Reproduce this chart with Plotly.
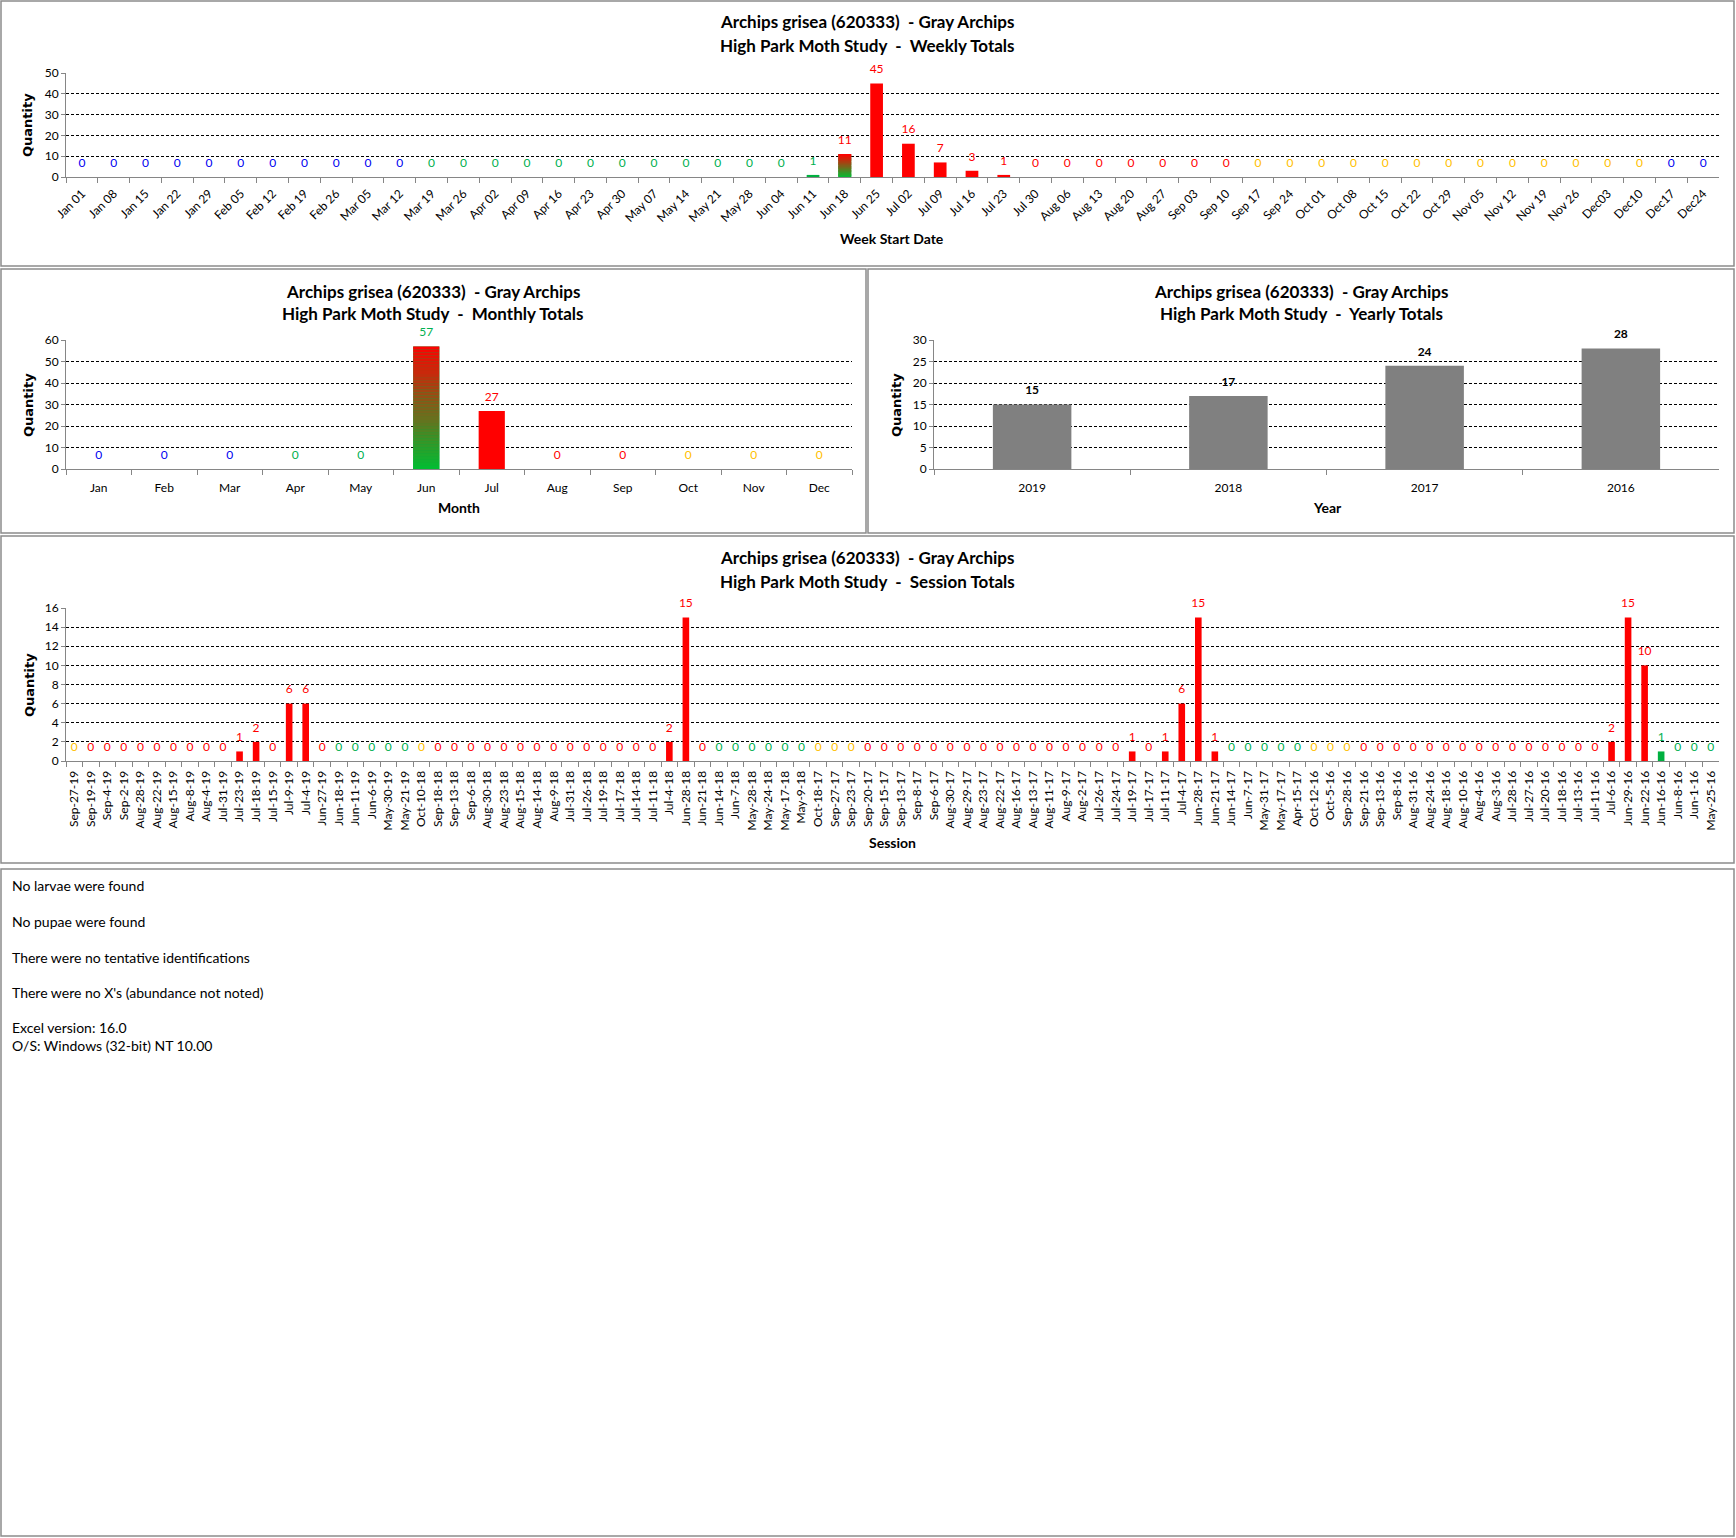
import plotly.graph_objects as go

W, H = 1736, 1538

# ---------------- DATA ----------------
TITLE1 = "Archips grisea (620333)\u00a0\u00a0- Gray Archips"
T_WEEK = "High Park Moth Study\u00a0\u00a0-\u00a0\u00a0Weekly Totals"
T_MONTH = "High Park Moth Study\u00a0\u00a0-\u00a0\u00a0Monthly Totals"
T_YEAR = "High Park Moth Study\u00a0\u00a0-\u00a0\u00a0Yearly Totals"
T_SESS = "High Park Moth Study\u00a0\u00a0-\u00a0\u00a0Session Totals"

week_labels = ["Jan 01", "Jan 08", "Jan 15", "Jan 22", "Jan 29", "Feb 05", "Feb 12", "Feb 19", "Feb 26",
               "Mar 05", "Mar 12", "Mar 19", "Mar 26", "Apr 02", "Apr 09", "Apr 16", "Apr 23", "Apr 30",
               "May 07", "May 14", "May 21", "May 28", "Jun 04", "Jun 11", "Jun 18", "Jun 25", "Jul 02",
               "Jul 09", "Jul 16", "Jul 23", "Jul 30", "Aug 06", "Aug 13", "Aug 20", "Aug 27", "Sep 03",
               "Sep 10", "Sep 17", "Sep 24", "Oct 01", "Oct 08", "Oct 15", "Oct 22", "Oct 29", "Nov 05",
               "Nov 12", "Nov 19", "Nov 26", "Dec03", "Dec10", "Dec17", "Dec24"]
week_values = [0] * 23 + [1, 11, 45, 16, 7, 3, 1] + [0] * 22
# label colour code per week: b=blue, g=green, r=red, y=yellow
week_label_codes = "b" * 11 + "g" * 12 + "g" + "r" * 6 + "r" * 7 + "y" * 13 + "b" * 2
# bar fill code: r=red, g=green, G=green-to-red gradient
week_bar_codes = "r" * 23 + "g" + "G" + "r" * 27

month_labels = ["Jan", "Feb", "Mar", "Apr", "May", "Jun", "Jul", "Aug", "Sep", "Oct", "Nov", "Dec"]
month_values = [0, 0, 0, 0, 0, 57, 27, 0, 0, 0, 0, 0]
month_label_codes = "bbbgggrrryyy"
month_bar_codes = "rrrrrGrrrrrr"

year_labels = ["2019", "2018", "2017", "2016"]
year_values = [15, 17, 24, 28]

session_labels = [
    "Sep-27-19", "Sep-19-19", "Sep-4-19", "Sep-2-19", "Aug-28-19", "Aug-22-19", "Aug-15-19", "Aug-8-19",
    "Aug-4-19", "Jul-31-19", "Jul-23-19", "Jul-18-19", "Jul-15-19", "Jul-9-19", "Jul-4-19", "Jun-27-19",
    "Jun-18-19", "Jun-11-19", "Jun-6-19", "May-30-19", "May-21-19",
    "Oct-10-18", "Sep-18-18", "Sep-13-18", "Sep-6-18", "Aug-30-18", "Aug-23-18", "Aug-15-18", "Aug-14-18",
    "Aug-9-18", "Jul-31-18", "Jul-26-18", "Jul-19-18", "Jul-17-18", "Jul-14-18", "Jul-11-18", "Jul-4-18",
    "Jun-28-18", "Jun-21-18", "Jun-14-18", "Jun-7-18", "May-28-18", "May-24-18", "May-17-18", "May-9-18",
    "Oct-18-17", "Sep-27-17", "Sep-23-17", "Sep-20-17", "Sep-15-17", "Sep-13-17", "Sep-8-17", "Sep-6-17",
    "Aug-30-17", "Aug-29-17", "Aug-23-17", "Aug-22-17", "Aug-16-17", "Aug-13-17", "Aug-11-17", "Aug-9-17",
    "Aug-2-17", "Jul-26-17", "Jul-24-17", "Jul-19-17", "Jul-17-17", "Jul-11-17", "Jul-4-17", "Jun-28-17",
    "Jun-21-17", "Jun-14-17", "Jun-7-17", "May-31-17", "May-17-17", "Apr-15-17",
    "Oct-12-16", "Oct-5-16", "Sep-28-16", "Sep-21-16", "Sep-13-16", "Sep-8-16", "Aug-31-16", "Aug-24-16",
    "Aug-18-16", "Aug-10-16", "Aug-4-16", "Aug-3-16", "Jul-28-16", "Jul-27-16", "Jul-20-16", "Jul-18-16",
    "Jul-13-16", "Jul-11-16", "Jul-6-16", "Jun-29-16", "Jun-22-16", "Jun-16-16", "Jun-8-16", "Jun-1-16",
    "May-25-16"]
session_values = ([0] * 10 + [1, 2, 0, 6, 6, 0] + [0] * 5 +
                  [0] * 15 + [2, 15] + [0] * 7 +
                  [0] * 19 + [1, 0, 1, 6, 15, 1] + [0] * 5 +
                  [0] * 18 + [2, 15, 10, 1, 0, 0, 0])
session_label_codes = ("y" + "r" * 15 + "g" * 5 +
                       "y" + "r" * 17 + "g" * 6 +
                       "y" * 3 + "r" * 22 + "g" * 5 +
                       "y" * 3 + "r" * 18 + "g" * 4)
session_bar_codes = "r" * 96 + "g" + "r" * 3

notes = ["No larvae were found", "No pupae were found", "There were no tentative identifications",
         "There were no X's (abundance not noted)", "Excel version: 16.0", "O/S: Windows (32-bit) NT 10.00"]

# ---------------- STYLE ----------------
TXT = {"b": "#0000F0", "g": "#00B050", "r": "#FF0000", "y": "#FFC000", "k": "#000000"}
BAR = {"r": "#FF0000", "g": "#00B040", "G": "#00B040"}
FONT = "Lato"
GREEN_RGB = (0, 190, 50)
RED_RGB = (255, 0, 0)


def px_x(a, b):
    return [a / W, b / W]


def px_y(a, b):
    return [1 - b / H, 1 - a / H]


fig = go.Figure()


def add_text_trace(cats, vals, colors, xa, ya, size, bold=False):
    fig.add_trace(go.Scatter(x=cats, y=vals, mode="markers+text", text=[str(v) for v in vals],
                             textposition="top center",
                             marker=dict(size=10, opacity=0),
                             textfont=dict(family=FONT, size=size, color=colors,
                                           weight="bold" if bold else "normal"),
                             xaxis=xa, yaxis=ya, showlegend=False, cliponaxis=False, hoverinfo="skip"))


def add_panel(cats, vals, label_codes, bar_codes, xa, ya, label_size=12):
    fig.add_trace(go.Bar(x=cats, y=vals, marker=dict(color=[BAR[c] for c in bar_codes], line=dict(width=0)),
                         xaxis=xa, yaxis=ya, showlegend=False, hoverinfo="x+y"))
    # gradient bars (green bottom -> red top), split from the value itself
    N = 40
    for cat, v, code in zip(cats, vals, bar_codes):
        if code == "G" and v > 0:
            cols = []
            for i in range(N):
                t = (i + 0.5) / N
                r = round(GREEN_RGB[0] + (RED_RGB[0] - GREEN_RGB[0]) * t)
                g = round(GREEN_RGB[1] + (RED_RGB[1] - GREEN_RGB[1]) * t)
                b = round(GREEN_RGB[2] + (RED_RGB[2] - GREEN_RGB[2]) * t)
                cols.append(f"rgb({r},{g},{b})")
            fig.add_trace(go.Bar(x=[cat] * N, y=[v / N] * N, base=[v * i / N for i in range(N)],
                                 marker=dict(color=cols, line=dict(width=0)),
                                 xaxis=xa, yaxis=ya, showlegend=False, hoverinfo="skip"))
    add_text_trace(cats, vals, [TXT[c] for c in label_codes], xa, ya, label_size)


add_panel(week_labels, week_values, week_label_codes, week_bar_codes, "x", "y")
add_panel(month_labels, month_values, month_label_codes, month_bar_codes, "x2", "y2")
fig.add_trace(go.Bar(x=year_labels, y=year_values, marker=dict(color="#808080", line=dict(width=0)),
                     xaxis="x3", yaxis="y3", showlegend=False))
add_text_trace(year_labels, year_values, "#000000", "x3", "y3", 12, bold=True)
add_panel(session_labels, session_values, session_label_codes, session_bar_codes, "x4", "y4", label_size=12)

AXC = "#868686"


def xaxis(dom, anchor, cats, angle, size, standoff=4):
    return dict(domain=px_x(*dom), anchor=anchor, type="category", categoryorder="array",
                categoryarray=cats, tickmode="array", tickvals=cats, tickangle=angle,
                range=[-0.5, len(cats) - 0.5], autorange=False, automargin=False,
                tickson="boundaries", ticks="outside", ticklen=5, tickcolor=AXC, showline=True,
                linecolor=AXC, linewidth=1, showgrid=False, zeroline=False,
                tickfont=dict(family=FONT, size=size, color="#000000"), ticklabelstandoff=standoff,
                fixedrange=True)


def yaxis(dom, anchor, rng, dtick):
    return dict(domain=px_y(*dom), anchor=anchor, range=rng, autorange=False, dtick=dtick, tick0=0,
                automargin=False,
                showgrid=True, gridcolor="#000000", gridwidth=1, griddash="3px,2px", zeroline=True,
                zerolinecolor=AXC, zerolinewidth=1, showline=True, linecolor=AXC, linewidth=1,
                ticks="outside", ticklen=4, tickcolor=AXC,
                tickfont=dict(family=FONT, size=12, color="#000000"), fixedrange=True)


layout = dict(
    width=W, height=H, autosize=False,
    margin=dict(l=0, r=0, t=0, b=0, pad=0, autoexpand=False),
    paper_bgcolor="white", plot_bgcolor="white",
    barmode="overlay", bargap=0.6, showlegend=False,
    xaxis=xaxis((66, 1719), "y", week_labels, -45, 12),
    yaxis=yaxis((73, 177), "x", [0, 50], 10),
    xaxis2=xaxis((66, 852), "y2", month_labels, 0, 12, 8),
    yaxis2=yaxis((340, 469), "x2", [0, 60], 10),
    xaxis3=xaxis((934, 1719), "y3", year_labels, 0, 12, 8),
    yaxis3=yaxis((340, 469), "x3", [0, 30], 5),
    xaxis4=xaxis((66, 1719), "y4", session_labels, -90, 12),
    yaxis4=yaxis((608, 761), "x4", [0, 16], 2),
)
fig.update_layout(**layout)

ann = []


def text_at(x, y, s, size=17, bold=True, angle=0, xanchor="center", family=FONT, color="#000000"):
    ann.append(dict(x=x / W, y=1 - y / H, xref="paper", yref="paper", text=s, showarrow=False,
                    xanchor=xanchor, yanchor="middle", textangle=angle,
                    font=dict(family=family, size=size, color=color, weight="bold" if bold else "normal")))


# chart titles
for cx, y1, y2, sub in [(867, 22, 45, T_WEEK), (433, 291, 313, T_MONTH), (1301, 291, 313, T_YEAR),
                        (867, 558, 581, T_SESS)]:
    text_at(cx, y1, TITLE1)
    text_at(cx, y2, sub)

# axis titles
for x, y in [(27, 125), (28, 405), (896, 405), (29, 685)]:
    text_at(x, y, "Quantity", size=13, angle=-90, family="DejaVu Sans")
text_at(892, 239, "Week Start Date", size=14)
text_at(459, 508, "Month", size=14)
text_at(1327, 508, "Year", size=14)
text_at(892, 843, "Session", size=14)

# notes
for s, y in zip(notes, [885, 921, 957, 992, 1027, 1045]):
    text_at(10, y, s, size=14, bold=False, xanchor="left")

fig.update_layout(annotations=ann)

# panel frames
shapes = []
for x0, y0, x1, y1 in [(1, 1, 1734, 266), (1, 269, 866, 533), (868, 269, 1734, 533),
                       (1, 536, 1734, 863), (1, 869, 1734, 1536)]:
    shapes.append(dict(type="rect", xref="paper", yref="paper", x0=x0 / W, x1=x1 / W,
                       y0=1 - y1 / H, y1=1 - y0 / H, line=dict(color="#8C8C8C", width=1.5)))
fig.update_layout(shapes=shapes)

fig.write_html(
    "out.html",
    config={"displayModeBar": False, "responsive": False},
    post_script=("document.body.style.margin='0';document.body.style.padding='0';"
                 "document.body.style.overflow='hidden';"),
)
